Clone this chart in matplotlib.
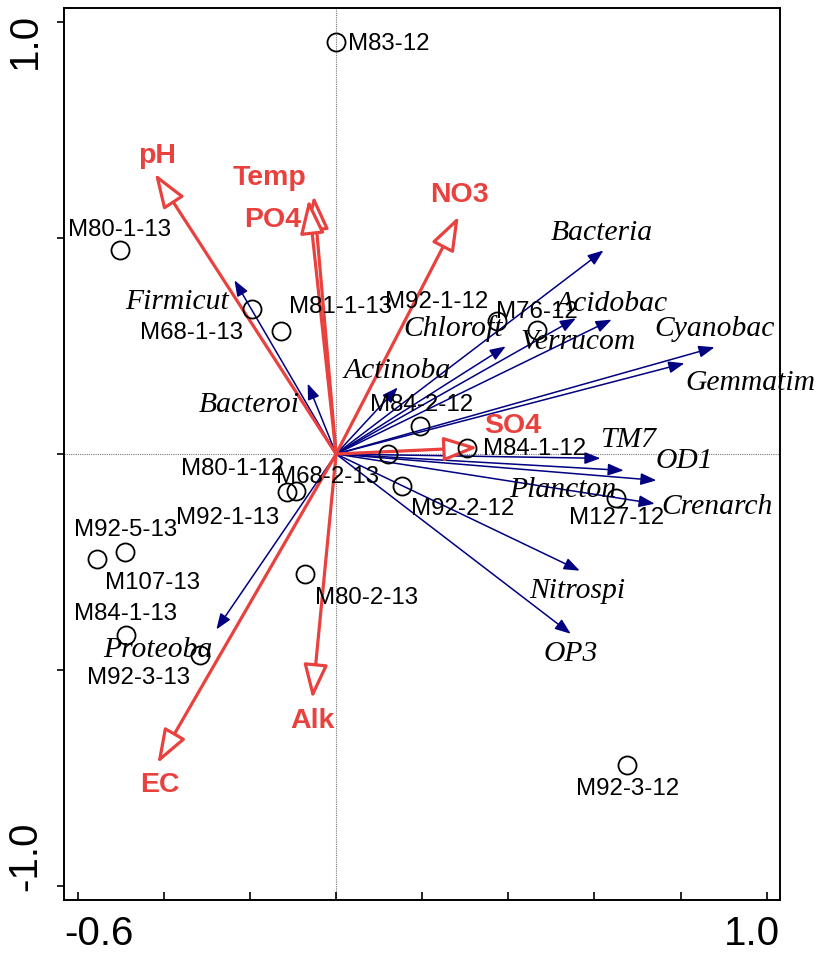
import matplotlib

matplotlib.use("Agg")

import matplotlib.pyplot as plt
import numpy as np

# environmental variables (biplot arrows, red)
env_names = ["pH", "Temp", "PO4", "NO3", "SO4", "Alk", "EC"]
env_x = [-0.421, -0.052, -0.064, 0.285, 0.329, -0.055, -0.415]
env_y = [0.649, 0.598, 0.589, 0.550, 0.015, -0.566, -0.716]

# taxa (blue arrows)
taxa_names = ["Firmicut", "Bacteroi", "Proteoba", "Actinoba", "Chloroft", "Bacteria",
              "Verrucom", "Acidobac", "Cyanobac", "Gemmatim", "TM7", "Plancton",
              "OD1", "Crenarch", "Nitrospi", "OP3"]
taxa_x = [-0.236, -0.066, -0.278, 0.143, 0.394, 0.621,
          0.557, 0.640, 0.879, 0.809, 0.614, 0.668,
          0.744, 0.740, 0.566, 0.545]
taxa_y = [0.402, 0.163, -0.406, 0.154, 0.249, 0.471,
          0.314, 0.311, 0.247, 0.210, -0.010, -0.038,
          -0.061, -0.115, -0.270, -0.416]

# samples (open circles)
sample_names = ["M83-12", "M80-1-13", "M68-1-13", "M81-1-13", "M92-1-12", "M76-12",
                "M84-2-12", "M84-1-12", "M68-2-13", "M92-2-12", "M127-12", "M92-3-12",
                "M80-1-12", "M92-1-13", "M92-5-13", "M107-13", "M84-1-13", "M92-3-13",
                "M80-2-13"]
sample_x = [-0.001, -0.501, -0.196, -0.127, 0.373, 0.466,
            0.196, 0.305, 0.120, 0.154, 0.651, 0.675,
            -0.113, -0.092, -0.491, -0.556, -0.489, -0.317,
            -0.073]
sample_y = [0.953, 0.471, 0.335, 0.284, 0.307, 0.286,
            0.064, 0.013, 0.001, -0.073, -0.101, -0.719,
            -0.089, -0.085, -0.226, -0.244, -0.418, -0.466,
            -0.277]

# label offsets from the point, in pixels (x right, y up)
env_off = [(2, 18), (-44, 18), (-36, -21), (1, 21), (35, 22), (0, -22), (2, -22)]
taxa_off = [(-57, -22), (-58, -21), (-59, -21), (0, 16), (-53, 18), (-2, 17),
            (2, -24), (0, 16), (0, 18), (66, -20), (28, 18), (-61, -20),
            (28, 19), (62, -3), (-2, -20), (0, -20)]
sample_off = [(53, -2), (-1, 20), (-60, -24), (59, 24), (-60, 19), (0, 18),
              (1, 21), (67, -1), (-60, -23), (60, -23), (0, -20), (1, -24),
              (-55, 23), (-69, -27), (1, 22), (56, -24), (0, 21), (-61, -23),
              (62, -24)]

RED = "#e8413e"
NAVY = "#000080"
SANS = ["Liberation Sans", "DejaVu Sans"]
SERIF = ["Liberation Serif", "DejaVu Serif"]

fig = plt.figure(figsize=(8.17, 9.55), dpi=100)
ax = fig.add_axes([0.0783, 0.0576, 0.8764, 0.934])
ax.set_xlim(-0.632, 1.031)
ax.set_ylim(-1.032, 1.032)

ax.axhline(0, color="#777777", lw=0.8, ls=(0, (1, 1)), zorder=0)
ax.axvline(0, color="#777777", lw=0.8, ls=(0, (1, 1)), zorder=0)

# taxa arrows
for name, x, y, (dx, dy) in zip(taxa_names, taxa_x, taxa_y, taxa_off):
    ax.annotate("", xy=(x, y), xytext=(0, 0),
                arrowprops=dict(arrowstyle="-|>,head_length=9.5,head_width=3.6",
                                mutation_scale=1, color=NAVY, lw=1.1,
                                shrinkA=0, shrinkB=0), zorder=2)
    ax.annotate(name, xy=(x, y), xytext=(dx, dy), textcoords="offset pixels",
                ha="center", va="center", fontsize=21.3, style="italic",
                family=SERIF, color="black", zorder=5)

# environmental arrows
for name, x, y, (dx, dy) in zip(env_names, env_x, env_y, env_off):
    ax.annotate("", xy=(x, y), xytext=(0, 0),
                arrowprops=dict(arrowstyle="-|>,head_length=21,head_width=7.5",
                                mutation_scale=1, fc="white", ec=RED, lw=2.3,
                                shrinkA=0, shrinkB=0), zorder=3)
    ax.annotate(name, xy=(x, y), xytext=(dx, dy), textcoords="offset pixels",
                ha="center", va="center", fontsize=20.5, fontweight="bold",
                family=SANS, color=RED, zorder=5)

# samples
ax.plot(sample_x, sample_y, "o", ms=13, mfc="none", mec="black", mew=1.3, zorder=4)
for name, x, y, (dx, dy) in zip(sample_names, sample_x, sample_y, sample_off):
    ax.annotate(name, xy=(x, y), xytext=(dx, dy), textcoords="offset pixels",
                ha="center", va="center", fontsize=17.3, family=SANS,
                color="black", zorder=5)

# axes frame and ticks
for s in ax.spines.values():
    s.set_linewidth(1.4)
ax.set_xticks(np.arange(-0.6, 1.01, 0.2))
ax.set_yticks([-1.0, -0.5, 0.0, 0.5, 1.0])
ax.tick_params(axis="x", direction="in", length=6, width=1.2, labelbottom=False)
ax.tick_params(axis="y", direction="out", length=5, width=1.2, labelleft=False)

tick_font = dict(fontsize=29, family=SANS)
ax.text(0.0, -0.017, "-0.6", transform=ax.transAxes, ha="left", va="top", **tick_font)
ax.text(1.0, -0.017, "1.0", transform=ax.transAxes, ha="right", va="top", **tick_font)
ax.text(-0.028, 0.995, "1.0", transform=ax.transAxes, ha="right", va="top",
        rotation=90, **tick_font)
ax.text(-0.028, 0.01, "-1.0", transform=ax.transAxes, ha="right", va="bottom",
        rotation=90, **tick_font)

fig.savefig("out.png", dpi=100)
